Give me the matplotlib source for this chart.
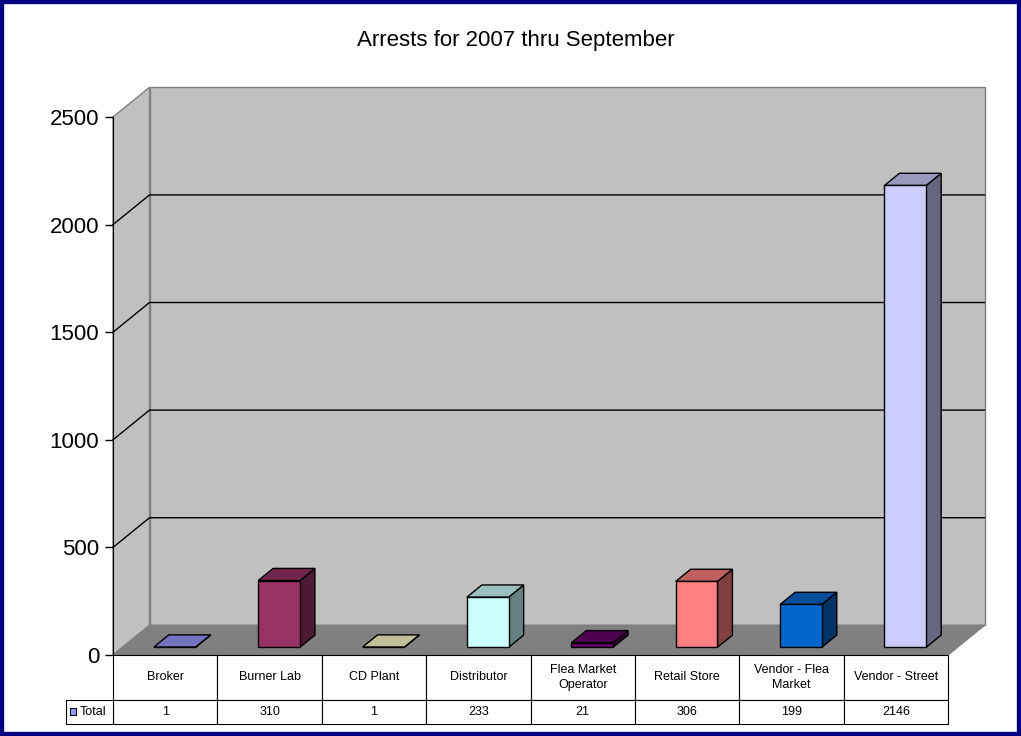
import matplotlib
matplotlib.use("Agg")
import matplotlib.pyplot as plt
from matplotlib.patches import Polygon, Rectangle
import numpy as np

plt.rcParams['font.family'] = ['Liberation Sans', 'DejaVu Sans']

# data
categories = ["Broker", "Burner Lab", "CD Plant", "Distributor",
              "Flea Market\nOperator", "Retail Store", "Vendor - Flea\nMarket",
              "Vendor - Street"]
values = [1, 310, 1, 233, 21, 306, 199, 2146]
colors = ["#9999FF", "#993366", "#FFFFCC", "#CCFFFF",
          "#660066", "#FF8080", "#0066CC", "#CCCCFF"]
series_name = "Total"
title = "Arrests for 2007 thru September"
yticks = [0, 500, 1000, 1500, 2000, 2500]

# 3d look (data units)
DX, DY = 0.35, 138.0      # depth offset of back wall
f0, f1 = 0.26, 0.67       # bar front / back depth fraction
bw = 0.40                 # bar width
H1, H2 = 209.0, 111.0     # table row heights
LBL_W = 0.45              # width of row label cell


def shade(c, k):
    rgb = np.array(matplotlib.colors.to_rgb(c))
    return tuple(rgb * k)


fig = plt.figure(figsize=(10.21, 7.36), dpi=100)
ax = fig.add_axes([113 / 1021, 81 / 736, 835 / 1021, 538 / 736])
ax.set_xlim(-0.5, 7.5)
ax.set_ylim(0, 2500)
for s in ["top", "right", "bottom"]:
    ax.spines[s].set_visible(False)
ax.spines["left"].set_zorder(10)
ax.set_xticks([])
ax.set_yticks(yticks)
ax.tick_params(axis="y", direction="out", length=6, width=1, labelsize=16, pad=4)
ax.patch.set_visible(False)

n = len(categories)
x0, x1 = -0.5, n - 0.5
top = yticks[-1]

# walls and floor
ax.add_patch(Polygon([(x0 + DX, DY), (x1 + DX, DY), (x1 + DX, top + DY), (x0 + DX, top + DY)],
                     closed=True, fc="#C0C0C0", ec="#808080", lw=1, clip_on=False, zorder=1))
ax.add_patch(Polygon([(x0, 0), (x0 + DX, DY), (x0 + DX, top + DY), (x0, top)],
                     closed=True, fc="#C0C0C0", ec="#808080", lw=1, clip_on=False, zorder=1))
ax.add_patch(Polygon([(x0, 0), (x1, 0), (x1 + DX, DY), (x0 + DX, DY)],
                     closed=True, fc="#808080", ec="#808080", lw=1, clip_on=False, zorder=2))

# gridlines
for v in yticks[1:-1]:
    ax.plot([x0, x0 + DX, x1 + DX], [v, v + DY, v + DY], color="black", lw=1,
            clip_on=False, zorder=3)

# bars
for i, (v, c) in enumerate(zip(values, colors)):
    bx = i - bw / 2 + f0 * DX
    by = f0 * DY
    ddx = (f1 - f0) * DX
    ddy = (f1 - f0) * DY
    ax.add_patch(Polygon([(bx + bw, by), (bx + bw + ddx, by + ddy),
                          (bx + bw + ddx, by + ddy + v), (bx + bw, by + v)],
                         closed=True, fc=shade(c, 0.5), ec="black", lw=1,
                         clip_on=False, zorder=5))
    ax.add_patch(Polygon([(bx, by + v), (bx + bw, by + v), (bx + bw + ddx, by + ddy + v),
                          (bx + ddx, by + ddy + v)],
                         closed=True, fc=shade(c, 0.75), ec="black", lw=1,
                         clip_on=False, zorder=5))
    ax.add_patch(Rectangle((bx, by), bw, v, fc=c, ec="black", lw=1,
                           clip_on=False, zorder=6))

# data table
for i, (cat, v) in enumerate(zip(categories, values)):
    ax.add_patch(Rectangle((i - 0.5, -H1), 1, H1, fc="white", ec="black", lw=0.8,
                           clip_on=False, zorder=4))
    ax.add_patch(Rectangle((i - 0.5, -H1 - H2), 1, H2, fc="white", ec="black", lw=0.8,
                           clip_on=False, zorder=4))
    ax.text(i, -H1 / 2, cat, ha="center", va="center", fontsize=9,
            linespacing=1.3, clip_on=False, zorder=5)
    ax.text(i, -H1 - H2 / 2, str(v), ha="center", va="center", fontsize=9,
            clip_on=False, zorder=5)
ax.add_patch(Rectangle((x0 - LBL_W, -H1 - H2), LBL_W, H2, fc="white", ec="black", lw=0.8,
                       clip_on=False, zorder=4))
ax.add_patch(Rectangle((x0 - LBL_W + 0.04, -H1 - H2 / 2 - 16), 0.06, 32,
                       fc=colors[0], ec="black", lw=0.8, clip_on=False, zorder=5))
ax.text(x0 - LBL_W + 0.13, -H1 - H2 / 2, series_name, ha="left", va="center",
        fontsize=9, clip_on=False, zorder=5)

fig.text(0.505, 0.945, title, ha="center", va="center", fontsize=16)

# outer border
fig.patches.append(Rectangle((0, 0), 1, 1, transform=fig.transFigure, fill=False,
                             ec="#000080", lw=6, zorder=20))

fig.savefig("out.png", dpi=100)
